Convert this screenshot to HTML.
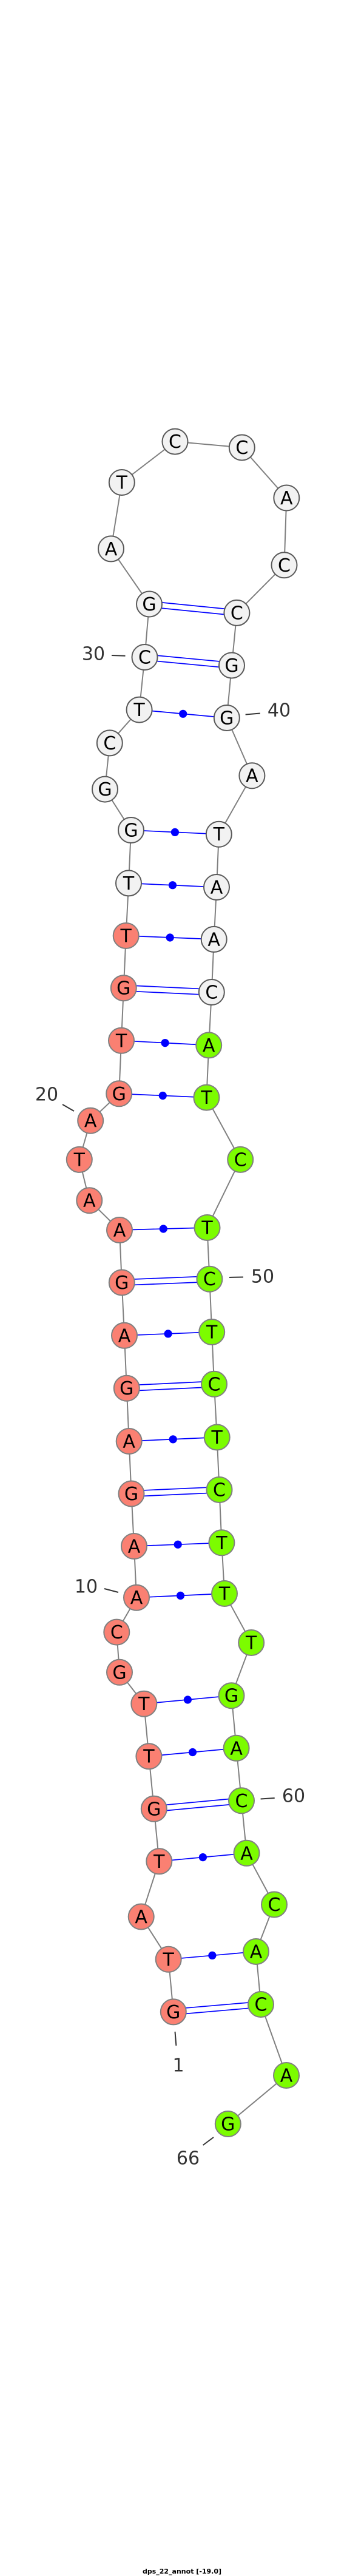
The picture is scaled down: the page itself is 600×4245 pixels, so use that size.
<!DOCTYPE html>
<html><head><meta charset="utf-8"><style>
html,body{margin:0;padding:0;background:#fff;}
svg{display:block;}
.n text{font-family:"DejaVu Sans","Liberation Sans",sans-serif;font-size:30px;text-anchor:middle;dominant-baseline:central;fill:#000;}
.lab{font-family:"DejaVu Sans","Liberation Sans",sans-serif;font-size:30px;fill:#333;dominant-baseline:central;}
</style></head><body>
<svg width="600" height="4245" viewBox="0 0 600 4245" xmlns="http://www.w3.org/2000/svg">
<rect width="600" height="4245" fill="#fff"/>
<!-- backbone -->
<polyline fill="none" stroke="#808080" stroke-width="2" points="285.8,3315.4 277.7,3228.8 232.7,3158.5 262.3,3067.3 253.8,2980.8 245.4,2894.2 237.3,2807.7 197,2755.8 192.3,2689.6 225,2632.7 221,2548 216.5,2461.5 212.7,2375 208.8,2287.7 205,2200.8 200.8,2113.5 197,2027 147.3,1978.2 130.8,1910.9 149.2,1846.7 196.2,1802.3 200,1714.8 203.8,1628.2 207.7,1542 212,1455.4 216,1368 173,1300.6 180.8,1224.4 229.6,1169.6 238.5,1083 246,995.5 183,904.4 200.8,795 288.5,727.6 398.8,737.5 472.3,820.5 468.5,931.3 390.4,1009.9 382,1096.5 373.8,1183 415.4,1278.2 360.8,1374.7 357,1462 352.7,1547.9 348.8,1635 344.2,1722.4 340.4,1808.6 396.2,1910.9 341.5,2023 345.4,2107.7 349.2,2195 353,2280.8 357.7,2368.5 361.5,2455 365.4,2542.3 370,2626 414.2,2707 381.5,2794.2 389.6,2880.8 398,2967.3 406.5,3053.8 452,3138.5 422,3216 430,3303 472,3420 375.8,3500"/>
<!-- pairs -->
<g stroke="#0000ff" stroke-width="1.7" fill="none">
<!-- doubles -->
<line x1="285.8" y1="3310.7" x2="430" y2="3298.3"/><line x1="285.8" y1="3320.1" x2="430" y2="3307.7"/>
<line x1="253.8" y1="2976.1" x2="398" y2="2962.6"/><line x1="253.8" y1="2985.5" x2="398" y2="2972"/>
<line x1="216.5" y1="2456.8" x2="361.5" y2="2450.3"/><line x1="216.5" y1="2466.2" x2="361.5" y2="2459.7"/>
<line x1="208.8" y1="2283" x2="353" y2="2276.1"/><line x1="208.8" y1="2292.4" x2="353" y2="2285.5"/>
<line x1="200.8" y1="2108.8" x2="345.4" y2="2103"/><line x1="200.8" y1="2118.2" x2="345.4" y2="2112.4"/>
<line x1="203.8" y1="1623.5" x2="348.8" y2="1630.3"/><line x1="203.8" y1="1632.9" x2="348.8" y2="1639.7"/>
<line x1="238.5" y1="1078.3" x2="382" y2="1091.8"/><line x1="238.5" y1="1087.7" x2="382" y2="1101.2"/>
<line x1="246" y1="990.8" x2="390.4" y2="1005.2"/><line x1="246" y1="1000.2" x2="390.4" y2="1014.6"/>
<!-- singles -->
<line x1="277.7" y1="3228.8" x2="422" y2="3216"/>
<line x1="262.3" y1="3067.3" x2="406.5" y2="3053.8"/>
<line x1="245.4" y1="2894.2" x2="389.6" y2="2880.8"/>
<line x1="237.3" y1="2807.7" x2="381.5" y2="2794.2"/>
<line x1="225" y1="2632.7" x2="370" y2="2626"/>
<line x1="221" y1="2548" x2="365.4" y2="2542.3"/>
<line x1="212.7" y1="2375" x2="357.7" y2="2368.5"/>
<line x1="205" y1="2200.8" x2="349.2" y2="2195"/>
<line x1="197" y1="2027" x2="341.5" y2="2023"/>
<line x1="196.2" y1="1802.3" x2="340.4" y2="1808.6"/>
<line x1="200" y1="1714.8" x2="344.2" y2="1722.4"/>
<line x1="207.7" y1="1542" x2="352.7" y2="1547.9"/>
<line x1="212" y1="1455.4" x2="357" y2="1462"/>
<line x1="216" y1="1368" x2="360.8" y2="1374.7"/>
<line x1="229.6" y1="1169.6" x2="373.8" y2="1183"/>
</g>
<g fill="#0000ff">
<circle cx="349.9" cy="3222.4" r="6.6"/>
<circle cx="334.4" cy="3060.6" r="6.6"/>
<circle cx="317.5" cy="2887.5" r="6.6"/>
<circle cx="309.4" cy="2801" r="6.6"/>
<circle cx="297.5" cy="2629.4" r="6.6"/>
<circle cx="293.2" cy="2545.2" r="6.6"/>
<circle cx="285.2" cy="2371.8" r="6.6"/>
<circle cx="277.1" cy="2197.9" r="6.6"/>
<circle cx="269.3" cy="2025" r="6.6"/>
<circle cx="268.3" cy="1805.5" r="6.6"/>
<circle cx="272.1" cy="1718.6" r="6.6"/>
<circle cx="280.2" cy="1545" r="6.6"/>
<circle cx="284.5" cy="1458.7" r="6.6"/>
<circle cx="288.4" cy="1371.4" r="6.6"/>
<circle cx="301.7" cy="1176.3" r="6.6"/>
</g>
<!-- label ticks -->
<g stroke="#333" stroke-width="2">
<line x1="184" y1="1080" x2="206.5" y2="1080.8"/>
<line x1="404.6" y1="1177.5" x2="428.8" y2="1175.5"/>
<line x1="103" y1="1820" x2="122" y2="1831"/>
<line x1="378" y1="2105" x2="401" y2="2104.5"/>
<line x1="172" y1="2618" x2="195" y2="2624"/>
<line x1="429.6" y1="2964.5" x2="452.7" y2="2963"/>
<line x1="288.5" y1="3348" x2="290.4" y2="3371"/>
<line x1="334.6" y1="3535" x2="352" y2="3522"/>
</g>
<text class="lab" x="154" y="1078" text-anchor="middle">30</text>
<text class="lab" x="460" y="1171" text-anchor="middle">40</text>
<text class="lab" x="77" y="1804" text-anchor="middle">20</text>
<text class="lab" x="433" y="2104" text-anchor="middle">50</text>
<text class="lab" x="142" y="2615" text-anchor="middle">10</text>
<text class="lab" x="484" y="2960" text-anchor="middle">60</text>
<text class="lab" x="294" y="3404" text-anchor="middle">1</text>
<text class="lab" x="310" y="3557" text-anchor="middle">66</text>
<!-- nodes: salmon -->
<g class="n" stroke-width="2">
<g fill="#fa8072" stroke="#808080">
<circle cx="285.8" cy="3315.4" r="21"/><circle cx="277.7" cy="3228.8" r="21"/><circle cx="232.7" cy="3158.5" r="21"/><circle cx="262.3" cy="3067.3" r="21"/><circle cx="253.8" cy="2980.8" r="21"/><circle cx="245.4" cy="2894.2" r="21"/><circle cx="237.3" cy="2807.7" r="21"/><circle cx="197" cy="2755.8" r="21"/><circle cx="192.3" cy="2689.6" r="21"/><circle cx="225" cy="2632.7" r="21"/><circle cx="221" cy="2548" r="21"/><circle cx="216.5" cy="2461.5" r="21"/><circle cx="212.7" cy="2375" r="21"/><circle cx="208.8" cy="2287.7" r="21"/><circle cx="205" cy="2200.8" r="21"/><circle cx="200.8" cy="2113.5" r="21"/><circle cx="197" cy="2027" r="21"/><circle cx="147.3" cy="1978.2" r="21"/><circle cx="130.8" cy="1910.9" r="21"/><circle cx="149.2" cy="1846.7" r="21"/><circle cx="196.2" cy="1802.3" r="21"/><circle cx="200" cy="1714.8" r="21"/><circle cx="203.8" cy="1628.2" r="21"/><circle cx="207.7" cy="1542" r="21"/>
</g>
<g fill="#f2f2f2" stroke="#595959">
<circle cx="212" cy="1455.4" r="21"/><circle cx="216" cy="1368" r="21"/><circle cx="173" cy="1300.6" r="21"/><circle cx="180.8" cy="1224.4" r="21"/><circle cx="229.6" cy="1169.6" r="21"/><circle cx="238.5" cy="1083" r="21"/><circle cx="246" cy="995.5" r="21"/><circle cx="183" cy="904.4" r="21"/><circle cx="200.8" cy="795" r="21"/><circle cx="288.5" cy="727.6" r="21"/><circle cx="398.8" cy="737.5" r="21"/><circle cx="472.3" cy="820.5" r="21"/><circle cx="468.5" cy="931.3" r="21"/><circle cx="390.4" cy="1009.9" r="21"/><circle cx="382" cy="1096.5" r="21"/><circle cx="373.8" cy="1183" r="21"/><circle cx="415.4" cy="1278.2" r="21"/><circle cx="360.8" cy="1374.7" r="21"/><circle cx="357" cy="1462" r="21"/><circle cx="352.7" cy="1547.9" r="21"/><circle cx="348.8" cy="1635" r="21"/>
</g>
<g fill="#7cfc00" stroke="#808080">
<circle cx="344.2" cy="1722.4" r="21"/><circle cx="340.4" cy="1808.6" r="21"/><circle cx="396.2" cy="1910.9" r="21"/><circle cx="341.5" cy="2023" r="21"/><circle cx="345.4" cy="2107.7" r="21"/><circle cx="349.2" cy="2195" r="21"/><circle cx="353" cy="2280.8" r="21"/><circle cx="357.7" cy="2368.5" r="21"/><circle cx="361.5" cy="2455" r="21"/><circle cx="365.4" cy="2542.3" r="21"/><circle cx="370" cy="2626" r="21"/><circle cx="414.2" cy="2707" r="21"/><circle cx="381.5" cy="2794.2" r="21"/><circle cx="389.6" cy="2880.8" r="21"/><circle cx="398" cy="2967.3" r="21"/><circle cx="406.5" cy="3053.8" r="21"/><circle cx="452" cy="3138.5" r="21"/><circle cx="422" cy="3216" r="21"/><circle cx="430" cy="3303" r="21"/><circle cx="472" cy="3420" r="21"/><circle cx="375.8" cy="3500" r="21"/>
</g>
<g transform="translate(0,1)">
<text x="285.8" y="3315.4">G</text><text x="277.7" y="3228.8">T</text><text x="232.7" y="3158.5">A</text><text x="262.3" y="3067.3">T</text><text x="253.8" y="2980.8">G</text><text x="245.4" y="2894.2">T</text><text x="237.3" y="2807.7">T</text><text x="197" y="2755.8">G</text><text x="192.3" y="2689.6">C</text><text x="225" y="2632.7">A</text><text x="221" y="2548">A</text><text x="216.5" y="2461.5">G</text><text x="212.7" y="2375">A</text><text x="208.8" y="2287.7">G</text><text x="205" y="2200.8">A</text><text x="200.8" y="2113.5">G</text><text x="197" y="2027">A</text><text x="147.3" y="1978.2">A</text><text x="130.8" y="1910.9">T</text><text x="149.2" y="1846.7">A</text><text x="196.2" y="1802.3">G</text><text x="200" y="1714.8">T</text><text x="203.8" y="1628.2">G</text><text x="207.7" y="1542">T</text>
<text x="212" y="1455.4">T</text><text x="216" y="1368">G</text><text x="173" y="1300.6">G</text><text x="180.8" y="1224.4">C</text><text x="229.6" y="1169.6">T</text><text x="238.5" y="1083">C</text><text x="246" y="995.5">G</text><text x="183" y="904.4">A</text><text x="200.8" y="795">T</text><text x="288.5" y="727.6">C</text><text x="398.8" y="737.5">C</text><text x="472.3" y="820.5">A</text><text x="468.5" y="931.3">C</text><text x="390.4" y="1009.9">C</text><text x="382" y="1096.5">G</text><text x="373.8" y="1183">G</text><text x="415.4" y="1278.2">A</text><text x="360.8" y="1374.7">T</text><text x="357" y="1462">A</text><text x="352.7" y="1547.9">A</text><text x="348.8" y="1635">C</text>
<text x="344.2" y="1722.4">A</text><text x="340.4" y="1808.6">T</text><text x="396.2" y="1910.9">C</text><text x="341.5" y="2023">T</text><text x="345.4" y="2107.7">C</text><text x="349.2" y="2195">T</text><text x="353" y="2280.8">C</text><text x="357.7" y="2368.5">T</text><text x="361.5" y="2455">C</text><text x="365.4" y="2542.3">T</text><text x="370" y="2626">T</text><text x="414.2" y="2707">T</text><text x="381.5" y="2794.2">G</text><text x="389.6" y="2880.8">A</text><text x="398" y="2967.3">C</text><text x="406.5" y="3053.8">A</text><text x="452" y="3138.5">C</text><text x="422" y="3216">A</text><text x="430" y="3303">C</text><text x="472" y="3420">A</text><text x="375.8" y="3500">G</text>
</g>
</g>
<text x="300" y="4241" text-anchor="middle" font-family="'DejaVu Sans','Liberation Sans',sans-serif" font-weight="bold" font-size="11" fill="#000">dps_22_annot [-19.0]</text>
</svg>
</body></html>
